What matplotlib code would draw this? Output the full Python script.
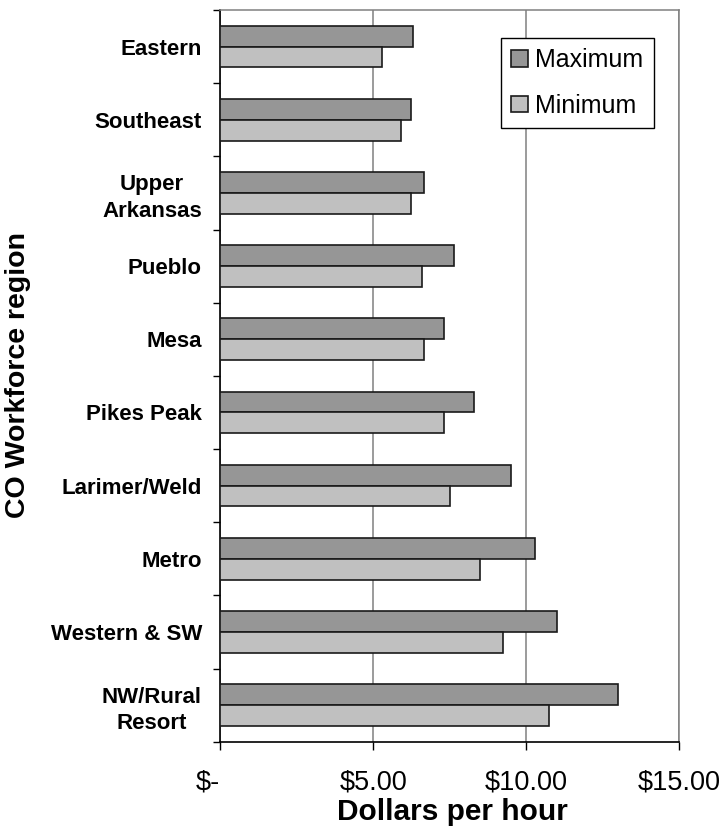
import matplotlib
matplotlib.use('Agg')
import matplotlib.pyplot as plt
import numpy as np
from matplotlib.ticker import FixedLocator

plt.rcParams['font.family'] = ['Liberation Sans', 'DejaVu Sans']

regions = ["Eastern", "Southeast", "Upper\nArkansas", "Pueblo", "Mesa",
           "Pikes Peak", "Larimer/Weld", "Metro", "Western & SW",
           "NW/Rural\nResort"]
maximum = [6.30, 6.25, 6.65, 7.65, 7.30, 8.30, 9.50, 10.30, 11.00, 13.00]
minimum = [5.30, 5.90, 6.25, 6.60, 6.65, 7.30, 7.50, 8.50, 9.25, 10.75]
x_ticks = [0, 5, 10, 15]
x_tick_labels = [r"\$-", r"\$5.00", r"\$10.00", r"\$15.00"]
series_names = ["Maximum", "Minimum"]

W, H = 725, 835
fig = plt.figure(figsize=(W / 100, H / 100), dpi=100)
ax = fig.add_axes([220 / W, 1 - 741.7 / H, 459.3 / W, 731.7 / H])

y = np.arange(len(regions))
bh = 0.284
ax.barh(y - bh / 2, maximum, height=bh, color='#969696', edgecolor='#1a1a1a',
        linewidth=1.2, label=series_names[0], zorder=3)
ax.barh(y + bh / 2, minimum, height=bh, color='#c0c0c0', edgecolor='#1a1a1a',
        linewidth=1.2, label=series_names[1], zorder=3)

ax.set_xlim(0, 15)
ax.set_ylim(len(regions) - 0.5, -0.5)

ax.set_xticks(x_ticks)
ax.set_xticklabels(x_tick_labels, fontsize=19.5)
ax.tick_params(axis='x', direction='out', length=6, width=1, color='black', pad=14)
ax.get_xticklabels()[0].set_horizontalalignment('right')

ax.set_yticks(y)
ax.set_yticklabels(regions, fontsize=16, fontweight='bold')
for lbl in ax.get_yticklabels():
    lbl.set_multialignment('center')
    lbl.set_linespacing(1.35)
ax.tick_params(axis='y', which='major', length=0, pad=13)
ax.yaxis.set_minor_locator(FixedLocator(np.arange(-0.5, len(regions), 1.0)))
ax.tick_params(axis='y', which='minor', direction='out', length=5.3, width=1, color='black')

ax.grid(axis='x', color='#808080', linewidth=1.1, zorder=0)
ax.set_axisbelow(True)

for side in ['left', 'bottom']:
    ax.spines[side].set_color('black')
    ax.spines[side].set_linewidth(1.2)
for side in ['top', 'right']:
    ax.spines[side].set_color('#808080')
    ax.spines[side].set_linewidth(1.1)

leg = ax.legend(loc='upper right', bbox_to_anchor=(0.945, 0.962), borderaxespad=0,
                fontsize=18, frameon=True, fancybox=False, shadow=False,
                handlelength=0.67, handleheight=0.64, handletextpad=0.3,
                labelspacing=0.86, borderpad=0.42)
leg.get_frame().set_edgecolor('black')
leg.get_frame().set_linewidth(1.0)
leg.get_frame().set_alpha(1)

fig.text(452 / W, 1 - 820 / H, "Dollars per hour", fontsize=21.5, fontweight='bold',
         ha='center', va='baseline')
fig.text(5 / W, 1 - 375.5 / H, "CO Workforce region", fontsize=20.5, fontweight='bold',
         rotation=90, ha='left', va='center')

fig.savefig('out.png', dpi=100)
